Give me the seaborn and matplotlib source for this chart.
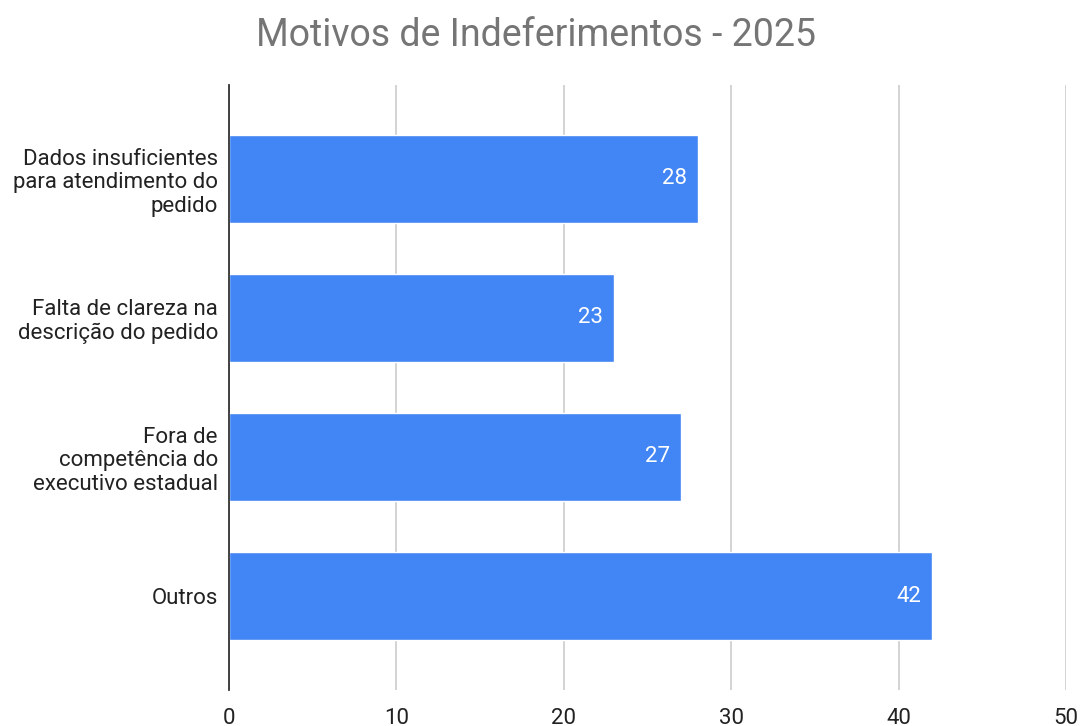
import matplotlib
matplotlib.use("Agg")
import pandas as pd
import matplotlib.pyplot as plt
import seaborn as sns

# data
motivos = [
    "Dados insuficientes\npara atendimento do\npedido",
    "Falta de clareza na\ndescrição do pedido",
    "Fora de\ncompetência do\nexecutivo estadual",
    "Outros",
]
quantidade = [28, 23, 27, 42]
xticks = [0, 10, 20, 30, 40, 50]

df = pd.DataFrame({"Motivo": motivos, "Quantidade": quantidade})

sns.set_style("white")
plt.rcParams["font.family"] = ["Roboto", "DejaVu Sans"]

fig = plt.figure(figsize=(10.83, 7.26), dpi=100)
ax = fig.add_axes([0.2115, 0.0496, 0.7728, 0.8334])

sns.barplot(data=df, x="Quantidade", y="Motivo", orient="h",
            color="#4285F4", saturation=1, width=0.633, ax=ax)

# value labels inside the bar ends
for i, v in enumerate(quantidade):
    ax.annotate(str(v), xy=(v, i), xytext=(-8, 0), textcoords="offset points",
                ha="right", va="center", color="white", fontsize=16)

ax.set_xlim(0, 50)
ax.set_ylim(3.676, -0.676)
ax.set_xticks(xticks)
ax.xaxis.grid(True, color="#cccccc", linewidth=1.2)
ax.set_axisbelow(True)
ax.tick_params(axis="x", length=0, pad=13, labelsize=16, labelcolor="#222222")
ax.tick_params(axis="y", length=0, pad=8, labelsize=16, labelcolor="#222222")
for lbl in ax.get_yticklabels():
    lbl.set_horizontalalignment("right")
    lbl.set_multialignment("right")
    lbl.set_linespacing(1.15)
ax.set_xlabel("")
ax.set_ylabel("")

for s in ["top", "right", "bottom"]:
    ax.spines[s].set_visible(False)
ax.spines["left"].set_color("#333333")
ax.spines["left"].set_linewidth(1.3)

fig.text(0.495, 0.951, "Motivos de Indeferimentos - 2025", ha="center",
         va="center", fontsize=27, color="#757575")

fig.savefig("out.png", dpi=100)
